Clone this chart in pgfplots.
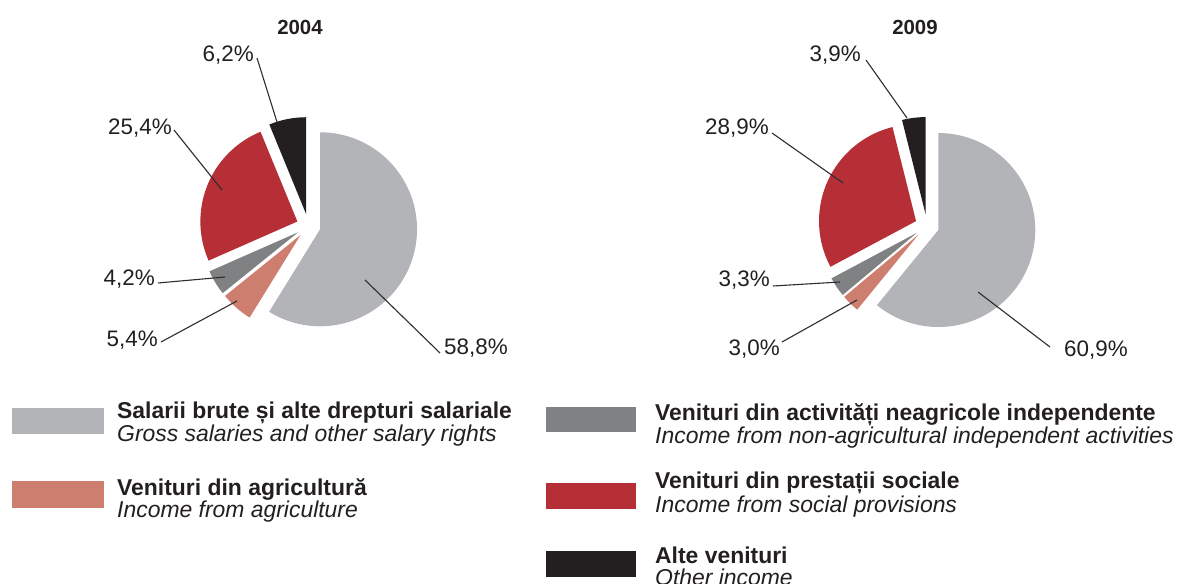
\documentclass[border=0pt]{standalone}
\usepackage{fontspec}
\setmainfont{Liberation Sans}
\usepackage{pgfplots}
\pgfplotsset{compat=1.18}
\usepackage{pgfplotstable}

\definecolor{cSal}{RGB}{179,180,184}
\definecolor{cAgr}{RGB}{206,126,110}
\definecolor{cInd}{RGB}{128,129,131}
\definecolor{cSoc}{RGB}{182,46,54}
\definecolor{cOth}{RGB}{35,31,32}
\definecolor{txt}{RGB}{35,31,32}
\definecolor{lead}{RGB}{45,45,45}

% 2004 shares (%), clockwise from 12 o'clock
\pgfplotstableread{
value color
58.8 cSal
5.4  cAgr
4.2  cInd
25.4 cSoc
6.2  cOth
}\tabA
% 2009 shares (%)
\pgfplotstableread{
value color
60.9 cSal
3.0  cAgr
3.3  cInd
28.9 cSoc
3.9  cOth
}\tabB

\newcommand\drawpie[3]{%
  \pgfplotstablegetrowsof{#1}%
  \pgfmathtruncatemacro\pnrows{\pgfplotsretval-1}%
  \def\pcum{0}%
  \pgfplotsforeachungrouped \pi in {0,...,\pnrows}{%
    \pgfplotstablegetelem{\pi}{value}\of{#1}\let\pval\pgfplotsretval
    \pgfplotstablegetelem{\pi}{color}\of{#1}\let\pcol\pgfplotsretval
    \pgfmathsetmacro\psa{90-3.6*\pcum}%
    \pgfmathsetmacro\pea{90-3.6*(\pcum+\pval)}%
    \pgfmathsetmacro\pma{(\psa+\pea)/2}%
    \pgfmathsetmacro\pox{#2+12*cos(\pma)}%
    \pgfmathsetmacro\poy{#3+12*sin(\pma)}%
    \edef\ptmp{\noexpand\fill[\pcol] (axis cs:\pox,\poy) -- ++(\psa:97bp) arc[start angle=\psa, end angle=\pea, radius=97bp] -- cycle;}%
    \ptmp
    \pgfmathsetmacro\pcum{\pcum+\pval}%
  }%
}

\begin{document}
\begin{tikzpicture}
\begin{axis}[x=1bp, y=1bp, xmin=0, xmax=1179, ymin=0, ymax=584,
  hide axis, clip=false, at={(0,0)}, anchor=south west]

\drawpie{\tabA}{308.5}{358}
\drawpie{\tabB}{927}{358}

% titles
\node[font=\fontsize{20.5}{22}\selectfont\bfseries, text=txt] at (axis cs:300,557) {2004};
\node[font=\fontsize{20.5}{22}\selectfont\bfseries, text=txt] at (axis cs:915,557) {2009};

% leader lines 2004
\draw[lead, line width=1.1bp] (axis cs:257,526) -- (axis cs:277,462);
\draw[lead, line width=1.1bp] (axis cs:174,454) -- (axis cs:222,394);
\draw[lead, line width=1.1bp] (axis cs:158,301) -- (axis cs:225,307);
\draw[lead, line width=1.1bp] (axis cs:161,242) -- (axis cs:237,283);
\draw[lead, line width=1.1bp] (axis cs:365,304) -- (axis cs:440,231);
% leader lines 2009
\draw[lead, line width=1.1bp] (axis cs:866,524) -- (axis cs:907,466);
\draw[lead, line width=1.1bp] (axis cs:772,451) -- (axis cs:843,401);
\draw[lead, line width=1.1bp] (axis cs:773,298) -- (axis cs:840,302);
\draw[lead, line width=1.1bp] (axis cs:782,242) -- (axis cs:857,284);
\draw[lead, line width=1.1bp] (axis cs:978,292) -- (axis cs:1050,237);

\tikzset{lab/.style={font=\fontsize{22.5}{24}\selectfont, text=txt, inner sep=0pt}}
\node[lab, anchor=east] at (axis cs:254,529) {6,2\%};
\node[lab, anchor=east] at (axis cs:172,456) {25,4\%};
\node[lab, anchor=east] at (axis cs:155,305) {4,2\%};
\node[lab, anchor=east] at (axis cs:158,244) {5,4\%};
\node[lab, anchor=west] at (axis cs:444,236) {58,8\%};

\node[lab, anchor=east] at (axis cs:861,529) {3,9\%};
\node[lab, anchor=east] at (axis cs:769,456) {28,9\%};
\node[lab, anchor=east] at (axis cs:770,304) {3,3\%};
\node[lab, anchor=east] at (axis cs:780,235) {3,0\%};
\node[lab, anchor=west] at (axis cs:1064,234) {60,9\%};

% legend
\fill[cSal] (axis cs:12,150) rectangle (axis cs:104,176);
\fill[cAgr] (axis cs:12,76) rectangle (axis cs:104,103);
\fill[cInd] (axis cs:546,152) rectangle (axis cs:636,177);
\fill[cSoc] (axis cs:546,75) rectangle (axis cs:636,101);
\fill[cOth] (axis cs:546,7) rectangle (axis cs:636,33);

\tikzset{lb/.style={font=\fontsize{23}{25}\selectfont\bfseries, text=txt, inner sep=0pt, anchor=base west},
         li/.style={font=\fontsize{23}{25}\selectfont\itshape, text=txt, inner sep=0pt, anchor=base west}}
\node[lb] at (axis cs:117,166) {Salarii brute și alte drepturi salariale};
\node[li] at (axis cs:117,143) {Gross salaries and other salary rights};
\node[lb] at (axis cs:117,89) {Venituri din agricultură};
\node[li] at (axis cs:117,67) {Income from agriculture};
\node[lb] at (axis cs:655,164) {Venituri din activități neagricole independente};
\node[li] at (axis cs:655,141) {Income from non-agricultural independent activities};
\node[lb] at (axis cs:655,96) {Venituri din prestații sociale};
\node[li] at (axis cs:655,72) {Income from social provisions};
\node[lb] at (axis cs:655,21) {Alte venituri};
\node[li] at (axis cs:655,-1) {Other income};
\end{axis}
\pgfresetboundingbox
\useasboundingbox (0,0) rectangle (1179bp,584bp);
\end{tikzpicture}
\end{document}
